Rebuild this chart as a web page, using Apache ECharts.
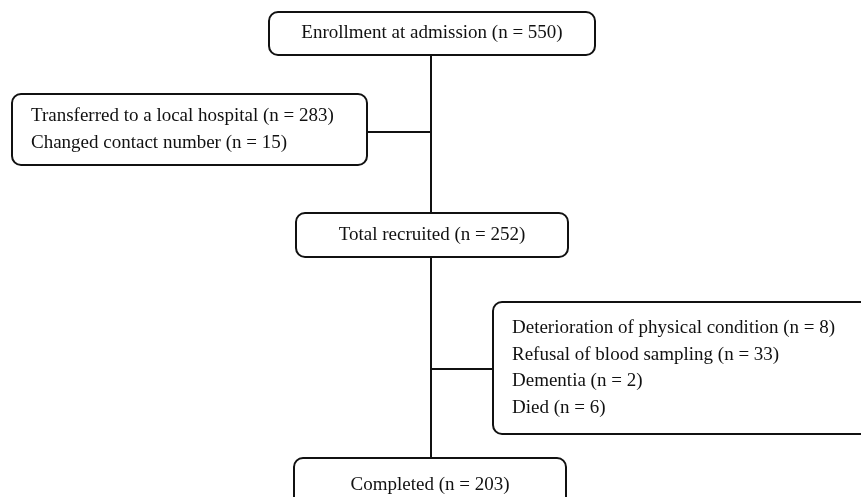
<!DOCTYPE html>
<html>
<head>
<meta charset="utf-8">
<script src="https://cdn.jsdelivr.net/npm/echarts@6/dist/echarts.min.js"></script>
<style>
  html, body { margin: 0; padding: 0; background: #fff; }
  #chart { width: 861px; height: 497px; }
</style>
</head>
<body>
<div id="chart"></div>
<script>
// box texts (one entry per line)
const boxTexts = [
  ['Enrollment at admission (n = 550)'],
  ['Transferred to a local hospital (n = 283)', 'Changed contact number (n = 15)'],
  ['Total recruited (n = 252)'],
  ['Deterioration of physical condition (n = 8)', 'Refusal of blood sampling (n = 33)', 'Dementia (n = 2)', 'Died (n = 6)'],
  ['Completed (n = 203)']
];
const boxAlign = ['center', 'left', 'center', 'left', 'center'];

// layout in pixel-like units: [x0, y0, x1, y1]
const boxLayout = [
  [269, 12, 595, 55],
  [12, 94, 367, 165],
  [296, 213, 568, 257],
  [493, 302, 875, 434],
  [294, 458, 566, 512]
];

// connectors: [x0, y0, x1, y1]
const connectors = [
  [431, 55, 431, 213],
  [367, 132, 431, 132],
  [431, 257, 431, 458],
  [431, 369, 493, 369]
];

const FONT = '19px "Liberation Serif", "Times New Roman", serif';
const LINE_H = 26.5;
const INK = '#111';

const chart = echarts.init(document.getElementById('chart'));

const boxData = boxLayout.map((b, i) => [b[0], b[1], b[2], b[3], i]);

chart.setOption({
  animation: false,
  grid: { left: 0, right: 0, top: 0, bottom: 0 },
  xAxis: { type: 'value', min: 0, max: 861, show: false },
  yAxis: { type: 'value', min: 0, max: 497, inverse: true, show: false },
  series: [
    {
      type: 'custom',
      clip: false,
      data: connectors,
      renderItem: function (params, api) {
        const p0 = api.coord([api.value(0), api.value(1)]);
        const p1 = api.coord([api.value(2), api.value(3)]);
        return {
          type: 'line',
          shape: { x1: p0[0], y1: p0[1], x2: p1[0], y2: p1[1] },
          style: { stroke: INK, lineWidth: 2 }
        };
      }
    },
    {
      type: 'custom',
      clip: false,
      data: boxData,
      renderItem: function (params, api) {
        const p0 = api.coord([api.value(0), api.value(1)]);
        const p1 = api.coord([api.value(2), api.value(3)]);
        const idx = api.value(4);
        const lines = boxTexts[idx];
        const align = boxAlign[idx];
        const cy = (p0[1] + p1[1]) / 2;
        const tx = align === 'left' ? p0[0] + 19 : (p0[0] + p1[0]) / 2;
        return {
          type: 'group',
          children: [
            {
              type: 'rect',
              shape: { x: p0[0], y: p0[1], width: p1[0] - p0[0], height: p1[1] - p0[1], r: 9 },
              style: { fill: '#fff', stroke: INK, lineWidth: 2 }
            },
            {
              type: 'text',
              x: tx,
              y: cy,
              style: {
                text: lines.join('\n'),
                font: FONT,
                fill: INK,
                align: align,
                verticalAlign: 'middle',
                lineHeight: LINE_H
              }
            }
          ]
        };
      }
    }
  ]
});
</script>
</body>
</html>
